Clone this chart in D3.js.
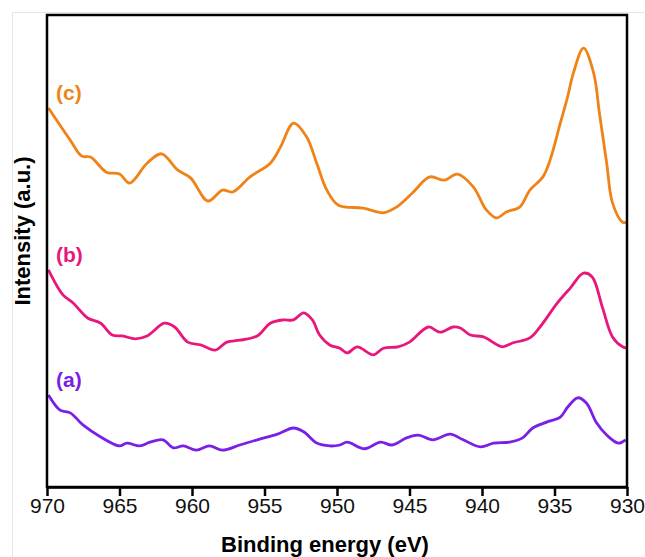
<!DOCTYPE html>
<html>
<head>
<meta charset="utf-8">
<script src="https://cdn.jsdelivr.net/npm/d3@7"></script>
<style>
  body { margin: 0; background: #fff; }
  svg { display: block; font-family: "Liberation Sans", Arial, sans-serif; }
</style>
</head>
<body>
<div id="chart"></div>
<script>
// binding energy (eV) / intensity (a.u.)
var energyC = [969.9,968.4,967.6,967.0,965.9,965.0,964.3,963.1,962.1,961.0,960.1,958.9,957.9,957.2,956.0,954.6,953.9,953.0,952.1,951.4,950.7,949.9,948.2,946.8,945.9,944.8,943.6,942.6,941.7,940.6,939.7,939.0,938.3,937.4,936.7,935.8,935.3,934.6,934.1,933.7,933.0,932.3,931.9,931.4,931.0,930.3,930.0];
var seriesC = [80.3,73.5,70.1,69.9,66.7,66.3,64.4,68.6,70.6,67.2,65.5,60.6,62.9,62.5,65.7,68.6,72.0,77.1,74.2,68.6,62.9,59.7,59.1,58.1,59.3,62.3,65.7,65.0,66.3,63.6,58.7,57.0,58.3,59.3,62.9,65.7,69.3,77.1,82.6,87.7,93.0,87.7,79.2,68.6,60.2,56.1,56.1];

var energyB = [969.9,968.9,968.2,967.2,966.3,965.5,964.8,963.9,963.1,961.9,961.2,960.3,959.4,958.4,957.6,956.7,955.5,954.6,953.7,953.0,952.3,951.7,951.2,950.5,949.8,949.3,948.6,947.5,946.8,945.8,945.0,943.7,942.9,942.0,941.5,940.8,939.9,938.6,937.9,936.7,936.0,934.8,933.9,933.0,932.4,931.7,931.0,930.3,930.0];
var seriesB = [46.0,40.7,39.0,35.8,34.7,32.2,32.0,31.4,32.0,34.7,33.9,30.7,30.1,29.0,30.7,31.1,32.0,34.7,35.4,35.4,36.9,35.4,32.2,30.1,29.4,28.4,29.7,28.0,29.4,29.7,30.7,33.9,32.8,33.9,33.7,32.2,31.8,29.7,30.5,31.6,33.9,39.0,42.2,45.3,44.5,38.1,31.8,29.7,29.4];

var energyA = [969.9,969.1,968.4,967.5,966.3,965.0,964.5,963.6,962.9,962.0,961.3,960.6,959.7,958.8,957.9,956.7,955.5,954.1,953.0,952.3,951.4,950.5,949.8,949.3,948.1,947.0,946.2,945.2,944.4,943.4,942.2,941.3,940.1,939.2,938.1,937.2,936.5,935.5,934.6,934.1,933.4,932.8,932.1,931.4,930.6,930.1];
var seriesA = [19.5,16.3,15.7,13.1,10.6,8.7,9.3,8.7,9.5,10.0,8.3,8.7,7.8,8.7,7.8,8.9,10.0,11.2,12.5,11.7,9.3,8.7,8.9,9.5,8.1,9.5,8.9,10.4,11.0,10.0,11.2,10.0,8.5,9.3,9.5,10.4,12.5,13.8,14.8,16.9,18.9,17.8,13.6,11.0,9.3,10.0];

var xTicks = [970, 965, 960, 955, 950, 945, 940, 935, 930];
var seriesNames = ["(a)", "(b)", "(c)"];
var seriesColors = ["#7a1fe6", "#e8177c", "#f08318"];

var width = 645, height = 557;
var margin = {top: 15, right: 18, bottom: 70, left: 47};
var w = width - margin.left - margin.right,
    h = height - margin.top - margin.bottom;

var svg = d3.select("#chart").append("svg")
  .attr("width", width)
  .attr("height", height);

// faint outer frame of the figure
svg.append("rect")
  .attr("x", 12.5).attr("y", 12.5)
  .attr("width", width - 12).attr("height", height)
  .attr("fill", "none").attr("stroke", "#e6e6e6");

var g = svg.append("g")
  .attr("transform", "translate(" + margin.left + "," + margin.top + ")");

var x = d3.scaleLinear().domain([970, 930]).range([0, w]);
var y = d3.scaleLinear().domain([0, 100]).range([h, 0]);

var line = d3.line()
  .x(function(d) { return x(d[0]); })
  .y(function(d) { return y(d[1]); })
  .curve(d3.curveCatmullRom.alpha(0.5));

var all = [
  {name: seriesNames[0], color: seriesColors[0], e: energyA, v: seriesA},
  {name: seriesNames[1], color: seriesColors[1], e: energyB, v: seriesB},
  {name: seriesNames[2], color: seriesColors[2], e: energyC, v: seriesC}
];

all.forEach(function(s) {
  var pts = s.e.map(function(e, i) { return [e, s.v[i]]; });
  g.append("path")
    .datum(pts)
    .attr("fill", "none")
    .attr("stroke", s.color)
    .attr("stroke-width", 2.8)
    .attr("stroke-linejoin", "round")
    .attr("d", line);
  // series label just above the start of the curve
  g.append("text")
    .attr("x", 9)
    .attr("y", y(s.v[0]) - 8)
    .attr("fill", s.color)
    .style("font-size", "21px")
    .style("font-weight", "bold")
    .text(s.name);
});

// plot box
g.append("rect")
  .attr("width", w).attr("height", h)
  .attr("fill", "none").attr("stroke", "#000").attr("stroke-width", 2.5);

// x axis
var xAxis = d3.axisBottom(x).tickValues(xTicks).tickSize(9).tickSizeOuter(0);
var ax = g.append("g")
  .attr("transform", "translate(0," + h + ")")
  .call(xAxis);
ax.select(".domain").attr("stroke-width", 2.5);
ax.selectAll(".tick line").attr("stroke-width", 2.5);
ax.selectAll(".tick text")
  .attr("dy", "0.71em").attr("y", 11)
  .style("font-size", "21px")
  .attr("fill", "#111");

// axis titles
svg.append("text")
  .attr("x", 325)
  .attr("y", 552)
  .attr("text-anchor", "middle")
  .style("font-size", "22px")
  .style("font-weight", "bold")
  .text("Binding energy (eV)");

svg.append("text")
  .attr("transform", "translate(30,231) rotate(-90)")
  .attr("text-anchor", "middle")
  .style("font-size", "22px")
  .style("font-weight", "bold")
  .text("Intensity (a.u.)");
</script>
</body>
</html>
